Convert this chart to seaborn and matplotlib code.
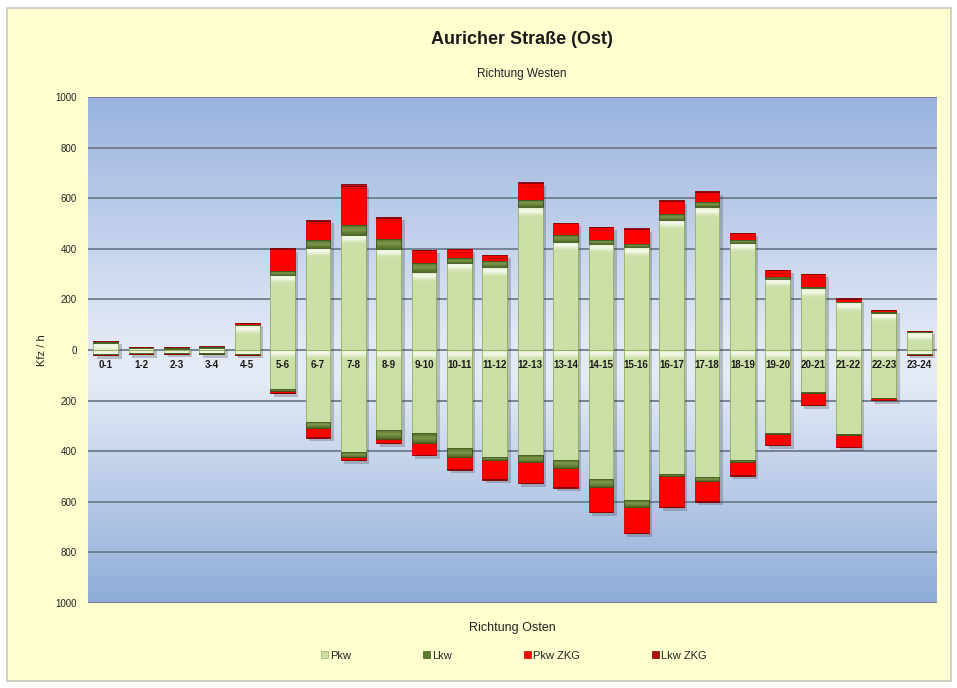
import numpy as np
import matplotlib
matplotlib.use("Agg")
import matplotlib.pyplot as plt
import matplotlib.patheffects as pe
from matplotlib.patches import Patch, Rectangle
from matplotlib.colors import LinearSegmentedColormap, to_rgb
import seaborn as sns

# Hourly intervals
hours = ["0-1", "1-2", "2-3", "3-4", "4-5", "5-6", "6-7", "7-8", "8-9", "9-10",
         "10-11", "11-12", "12-13", "13-14", "14-15", "15-16", "16-17", "17-18",
         "18-19", "19-20", "20-21", "21-22", "22-23", "23-24"]

# Richtung Westen (positive, vehicles per hour)
west_pkw = [28, 8, 6, 9, 98, 298, 405, 455, 400, 308, 345, 328, 565, 427,
            419, 407, 514, 565, 423, 282, 245, 188, 148, 70]
west_lkw = [2, 1, 1, 1, 2, 15, 28, 40, 40, 36, 18, 24, 28, 28,
            16, 12, 23, 20, 12, 6, 5, 3, 2, 1]
west_pkw_zkg = [5, 3, 3, 3, 7, 87, 78, 155, 83, 50, 35, 23, 67, 47,
                50, 60, 52, 40, 27, 28, 50, 12, 8, 5]
west_lkw_zkg = [1, 1, 0, 1, 1, 3, 3, 5, 3, 2, 2, 2, 3, 2,
                2, 2, 2, 2, 2, 1, 1, 1, 1, 0]

# Richtung Osten (drawn below zero)
east_pkw = [-16, -12, -10, -13, -15, -155, -285, -405, -316, -328, -387, -422,
            -415, -435, -510, -593, -490, -502, -435, -328, -165, -332, -188, -15]
east_lkw = [-1, -1, -1, -1, -1, -5, -24, -18, -36, -38, -35, -13,
            -27, -32, -32, -27, -8, -15, -7, -5, -5, -4, -2, -1]
east_pkw_zkg = [-4, -3, -3, -3, -3, -10, -35, -10, -15, -48, -50, -75,
                -83, -75, -98, -103, -122, -80, -52, -42, -47, -47, -7, -2]
east_lkw_zkg = [0, 0, 0, 0, 0, -1, -2, -2, -2, -2, -2, -2,
                -2, -2, -2, -2, -2, -2, -2, -1, -1, -1, -1, 0]

series_names = ["Pkw", "Lkw", "Pkw ZKG", "Lkw ZKG"]
series_colors = ["#CBDFA6", "#5E7A2E", "#FF0000", "#B01010"]
edge_colors = ["#93AF60", "#3F5520", "#D00000", "#800000"]

sns.set_theme(style="white")
plt.rcParams["font.family"] = ["Liberation Sans", "DejaVu Sans"]

fig = plt.figure(figsize=(9.57, 6.88), dpi=100, facecolor="white")
# chart area frame
fig.patches.append(Rectangle((0.007, 0.010), 0.987, 0.978, transform=fig.transFigure,
                             facecolor="#FFFFCF", edgecolor="#C8C8C0", linewidth=1.2,
                             zorder=-10))

ax = fig.add_axes([0.092, 0.1235, 0.887, 0.7355])
ax.set_facecolor("none")

# plot area background gradient
cmap = LinearSegmentedColormap.from_list(
    "bg", [(0.0, "#8EACD9"), (0.45, "#E6ECF6"), (0.52, "#E2E9F5"), (1.0, "#98B2DE")])
grad = np.linspace(0, 1, 256).reshape(-1, 1)
ax.imshow(grad, extent=[-0.5, 23.5, -1000, 1000], aspect="auto", cmap=cmap,
          origin="lower", zorder=0)

for y in range(-1000, 1001, 200):
    ax.axhline(y, color="#6F7C8E", linewidth=1.3, zorder=1)

shadow = [pe.SimplePatchShadow(offset=(2.5, -2.5), alpha=0.25, shadow_rgbFace="#333333"),
          pe.Normal()]

layer_patches = {name: [] for name in series_names}
for layers in ([west_pkw, west_lkw, west_pkw_zkg, west_lkw_zkg],
               [east_pkw, east_lkw, east_pkw_zkg, east_lkw_zkg]):
    bottom = np.zeros(len(hours))
    for name, vals, col, ecol in zip(series_names, layers, series_colors, edge_colors):
        n_before = len(ax.patches)
        sns.barplot(x=hours, y=vals, order=hours, bottom=bottom, color=col,
                    saturation=1, width=0.7, errorbar=None, ax=ax,
                    edgecolor=ecol, linewidth=0.6, zorder=3)
        for p in ax.patches[n_before:]:
            p.set_path_effects(shadow)
            layer_patches[name].append(p)
        bottom = bottom + np.array(vals, dtype=float)

ax.set_xlim(-0.5, 23.5)
ax.set_ylim(-1000, 1000)


def shade(patch, base, light, peak, spread, mode):
    """Fill a bar with a soft glossy band (top highlight or middle stripe)."""
    x0, y0 = patch.get_x(), patch.get_y()
    w, h = patch.get_width(), patch.get_height()
    if h == 0:
        return
    lo, hi = min(y0, y0 + h), max(y0, y0 + h)
    n = 200
    ys = np.linspace(lo, hi, n)
    if mode == "top":
        d = hi - ys
        f = np.exp(-((d - peak) / spread) ** 2) * 0.85
        f = np.where(d < peak, np.maximum(f, 0.35 * d / max(peak, 1e-6)), f)
    else:
        mid = (lo + hi) / 2
        half = max((hi - lo) / 2, 1e-6)
        f = np.clip(1 - np.abs(ys - mid) / half, 0, 1) * 0.6
    b, l = np.array(to_rgb(base)), np.array(to_rgb(light))
    img = b[None, :] + (l - b)[None, :] * f[:, None]
    img = img[:, None, :]
    im = ax.imshow(img, extent=[x0, x0 + w, lo, hi], origin="lower",
                   aspect="auto", zorder=3.5, interpolation="bilinear")
    im.set_clip_path(patch)
    edge = Rectangle((x0, lo), w, hi - lo, facecolor="none",
                     edgecolor=patch.get_edgecolor(), linewidth=0.6, zorder=3.6)
    ax.add_patch(edge)


for p in layer_patches["Pkw"]:
    shade(p, series_colors[0], "#FAFDF2", 14, 14, "top")
for p in layer_patches["Lkw"]:
    shade(p, "#4F6A22", "#9DB86A", 0, 0, "mid")

ax.set_xlim(-0.5, 23.5)
ax.set_ylim(-1000, 1000)
ax.set_xticks([])
ax.set_xlabel("")
ticks = list(range(-1000, 1001, 200))
ax.set_yticks(ticks)
ax.set_yticklabels([str(abs(t)) for t in ticks], fontsize=7, color="#222222")
ax.tick_params(axis="y", length=0, pad=8)
for s in ax.spines.values():
    s.set_visible(False)
ax.set_ylabel("Kfz / h", fontsize=8, labelpad=6, color="#222222")

# hour labels along the zero line
for i, h in enumerate(hours):
    ax.text(i, -58, h, ha="center", va="center", fontsize=7, fontweight="bold",
            color="#1A1A1A", zorder=6)

fig.text(0.545, 0.942, "Auricher Straße (Ost)", ha="center", va="center",
         fontsize=13, fontweight="bold", color="#1A1A1A")
fig.text(0.545, 0.893, "Richtung Westen", ha="center", va="center",
         fontsize=8.5, color="#222222")
fig.text(0.535, 0.087, "Richtung Osten", ha="center", va="center",
         fontsize=9, color="#222222")

handles = [Patch(facecolor=c, edgecolor=e, linewidth=0.5)
           for c, e in zip(series_colors, edge_colors)]
fig.legend(handles, series_names, loc="center", bbox_to_anchor=(0.537, 0.047),
           ncol=4, frameon=False, fontsize=8, columnspacing=6.5,
           handlelength=0.6, handleheight=0.6, handletextpad=0.2,
           labelcolor="#222222")

fig.savefig("out.png", dpi=100, facecolor=fig.get_facecolor())
